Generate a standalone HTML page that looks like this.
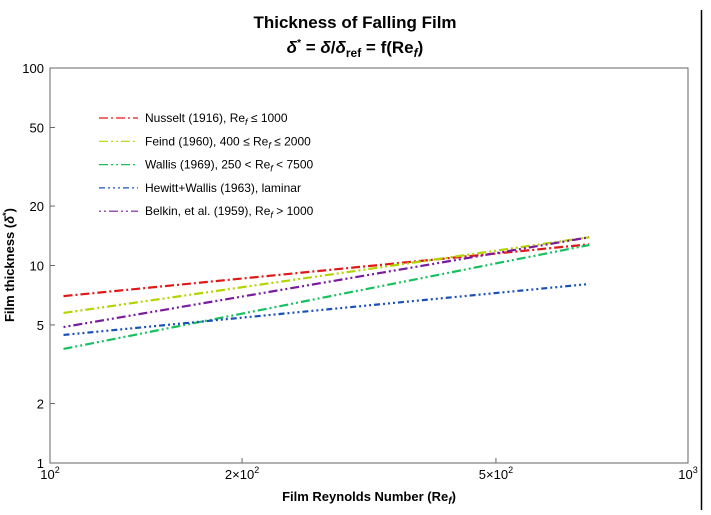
<!DOCTYPE html>
<html><head><meta charset="utf-8"><style>
body{margin:0;background:#fff}
svg{font-family:"Liberation Sans",Arial,sans-serif}
</style></head><body>
<svg width="711" height="510">
<line x1="701.5" y1="10" x2="701.5" y2="510" stroke="#000" stroke-width="1.5"/>
<text x="355" y="28" text-anchor="middle" font-size="17" font-weight="bold">Thickness of Falling Film</text>
<text x="355" y="53" text-anchor="middle" font-size="17" font-weight="bold"><tspan font-style="italic">δ</tspan><tspan font-size="10" dy="-7">*</tspan><tspan dy="7"> = </tspan><tspan font-style="italic">δ</tspan>/<tspan font-style="italic">δ</tspan><tspan font-size="12" dy="4">ref</tspan><tspan dy="-4"> = f(Re</tspan><tspan font-size="12" font-style="italic" dy="4">f</tspan><tspan dy="-4">)</tspan></text>
<rect x="50" y="68" width="638" height="395" fill="none" stroke="#666" stroke-width="1"/>
<g id="axes"></g>
<g id="series"></g>
<g id="legend"></g>
<text x="369" y="501" text-anchor="middle" font-size="13" font-weight="bold">Film Reynolds Number (Re<tspan font-style="italic" font-size="10" dy="3">f</tspan><tspan dy="-3">)</tspan></text>
<text transform="translate(14,265) rotate(-90)" text-anchor="middle" font-size="13" font-weight="bold">Film thickness (<tspan font-style="italic">δ</tspan><tspan font-size="9" dy="-5">*</tspan><tspan dy="5">)</tspan></text>
</svg>
<script>
const reX=[105,700];
const nusselt=[7.0,12.8];
const feind=[5.75,13.9];
const wallis=[3.78,12.7];
const hewitt=[4.45,8.06];
const belkin=[4.88,13.9];
const yTicks=[1,2,5,10,20,50,100];
const xTicks=[100,200,500,1000];
const xTickLabels=[["10","2"],["2×10","2"],["5×10","2"],["10","3"]];
const seriesNames=["Nusselt (1916), Re","Feind (1960), 400 ≤ Re","Wallis (1969), 250 < Re","Hewitt+Wallis (1963), laminar","Belkin, et al. (1959), Re"];
const seriesTails=[" ≤ 1000"," ≤ 2000"," < 7500",""," > 1000"];
const NS="http://www.w3.org/2000/svg";
const L=50,R=688,T=68,B=463;
const sx=v=>L+(R-L)*Math.log10(v/100);
const sy=v=>B-(B-T)*Math.log10(v)/2;
function mk(t,a,p){const e=document.createElementNS(NS,t);for(const k in a)e.setAttribute(k,a[k]);p.appendChild(e);return e;}
const ax=document.getElementById('axes');
yTicks.forEach(v=>{const y=sy(v);
 const l=mk('line',{x1:L,x2:L+5,y1:y,y2:y,stroke:'#666'},ax);
 
 
 const t=mk('text',{x:L-6,y:y+5,'text-anchor':'end','font-size':13},ax);t.textContent=v;
 
 
});
xTicks.forEach((v,i)=>{const x=sx(v);
 const l=mk('line',{x1:x,x2:x,y1:B,y2:B-5,stroke:'#666'},ax);
 
 
 const t=mk('text',{x:x,y:B+16,'text-anchor':'middle','font-size':13},ax);
 
 
 t.innerHTML=xTickLabels[i][0]+'<tspan font-size="9" dy="-6">'+xTickLabels[i][1]+'</tspan>';
});
const data=[nusselt,feind,wallis,hewitt,belkin];
const colors=['#e01818','#b4d400','#18c060','#1a50b8','#7a1a9c'];
const dashes=['9,3,2,3','9,3,2,3,2,3','9,3,2,3,2,3','6,3,2,3,2,3,2,3','2,3,2,3,9,3'];
const keys=['nusselt','feind','wallis','hewitt-wallis','belkin'];
const sg=document.getElementById('series'),lg=document.getElementById('legend');
data.forEach((d,i)=>{
 const p=mk('polyline',{points:reX.map((x,j)=>sx(x)+','+sy(d[j])).join(' '),fill:'none',stroke:colors[i],'stroke-width':2.2,'stroke-dasharray':dashes[i]},sg);
 
 
 const y=118+i*23.3;
 const g=mk('g',{},lg);
 
 
 mk('line',{x1:99,x2:138,y1:y,y2:y,stroke:colors[i],'stroke-width':1.2,'stroke-dasharray':dashes[i]},g);
 const t=mk('text',{x:145,y:y+4,'font-size':12},g);
 t.innerHTML=seriesNames[i]+(i===3?'':'<tspan font-style="italic" font-size="9" dy="3">f</tspan><tspan dy="-3">'+seriesTails[i]+'</tspan>');
});
</script>
</body></html>
